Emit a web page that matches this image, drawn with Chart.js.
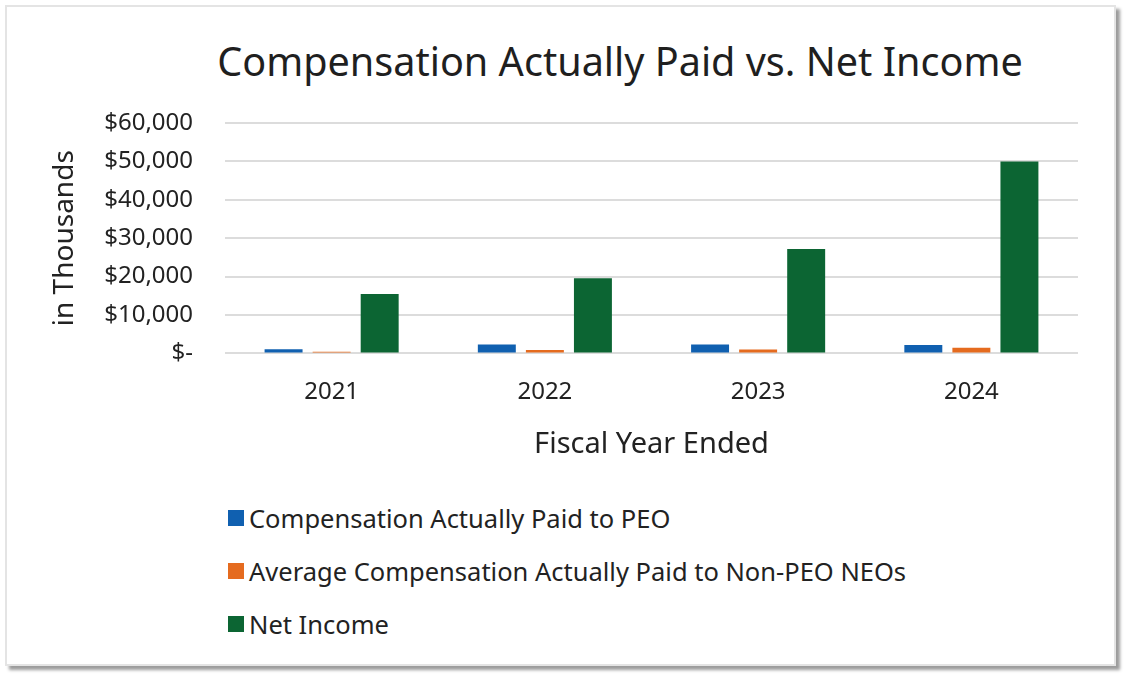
<!DOCTYPE html>
<html>
<head>
<meta charset="utf-8">
<script src="https://cdn.jsdelivr.net/npm/chart.js@4"></script>
<style>
  body { margin: 0; background: #fff; font-family: "Noto Sans", sans-serif; }
  #card {
    position: absolute; left: 5px; top: 5px; width: 1107px; height: 657px;
    border: 2px solid #e4e4e4; box-shadow: 4px 4px 3px #9c9c9c; background: #fff;
  }
  #title {
    position: absolute; left: 620px; top: 38px; transform: translateX(-50%);
    white-space: nowrap; font-size: 39.6px; line-height: 46px; color: #1f1f1f;
  }
  #chart { position: absolute; left: 0; top: 0; }
  #legend { position: absolute; left: 228px; top: 499px; }
  .item { display: flex; align-items: center; height: 53px; font-size: 25.5px; color: #222; }
  .item span.box { width: 16px; height: 16px; margin-right: 5px; display: inline-block; position: relative; top: -8px; }
  .item span.lbl { line-height: 30px; position: relative; top: -8px; }
</style>
</head>
<body>
<div id="card"></div>
<div id="title">Compensation Actually Paid vs. Net Income</div>
<canvas id="chart" width="1130" height="480"></canvas>
<div id="legend"></div>
<script>
const years = ['2021', '2022', '2023', '2024'];
const capPEO = [1100, 2300, 2300, 2200];
const capNonPEO = [450, 900, 1000, 1500];
const netIncome = [15500, 19600, 27200, 50000];
const yTickLabels = ['$-', '$10,000', '$20,000', '$30,000', '$40,000', '$50,000', '$60,000'];

const seriesNames = [
  'Compensation Actually Paid to PEO',
  'Average Compensation Actually Paid to Non-PEO NEOs',
  'Net Income'
];
const colors = ['#1060B0', '#E56B1F', '#0C6533'];

const ctx = document.getElementById('chart').getContext('2d');
const chart = new Chart(ctx, {
  type: 'bar',
  data: {
    labels: years,
    datasets: [capPEO, capNonPEO, netIncome].map((d, i) => ({
      label: seriesNames[i],
      data: d,
      backgroundColor: colors[i],
      categoryPercentage: 0.676,
      barPercentage: 0.79
    }))
  },
  options: {
    responsive: false,
    animation: false,
    layout: { padding: { left: 38, right: 52, top: 123, bottom: 18 } },
    plugins: {
      legend: { display: false },
      tooltip: { enabled: false }
    },
    scales: {
      x: {
        grid: { display: false },
        border: { display: false },
        ticks: { color: '#222', font: { family: 'Noto Sans', size: 24 }, padding: 16 },
        title: {
          display: true, text: 'Fiscal Year Ended', color: '#222',
          font: { family: 'Noto Sans', size: 29 }, padding: { top: 5, bottom: 0 }
        }
      },
      y: {
        min: 0, max: 60000,
        afterFit: s => { s.width = 187; },
        grid: { color: '#dcdcdc', lineWidth: 2, drawTicks: false },
        border: { display: false },
        ticks: {
          stepSize: 10000, padding: 32, color: '#222',
          font: { family: 'Noto Sans', size: 24 },
          callback: (v, i) => yTickLabels[i]
        },
        title: {
          display: true, text: 'in Thousands', color: '#222',
          font: { family: 'Noto Sans', size: 28 }, padding: { top: 10, bottom: 0 }
        }
      }
    }
  }
});

const legend = document.getElementById('legend');
chart.data.datasets.forEach(ds => {
  const row = document.createElement('div');
  row.className = 'item';
  row.innerHTML = '<span class="box" style="background:' + ds.backgroundColor + '"></span><span class="lbl">' + ds.label + '</span>';
  legend.appendChild(row);
});
</script>
</body>
</html>
